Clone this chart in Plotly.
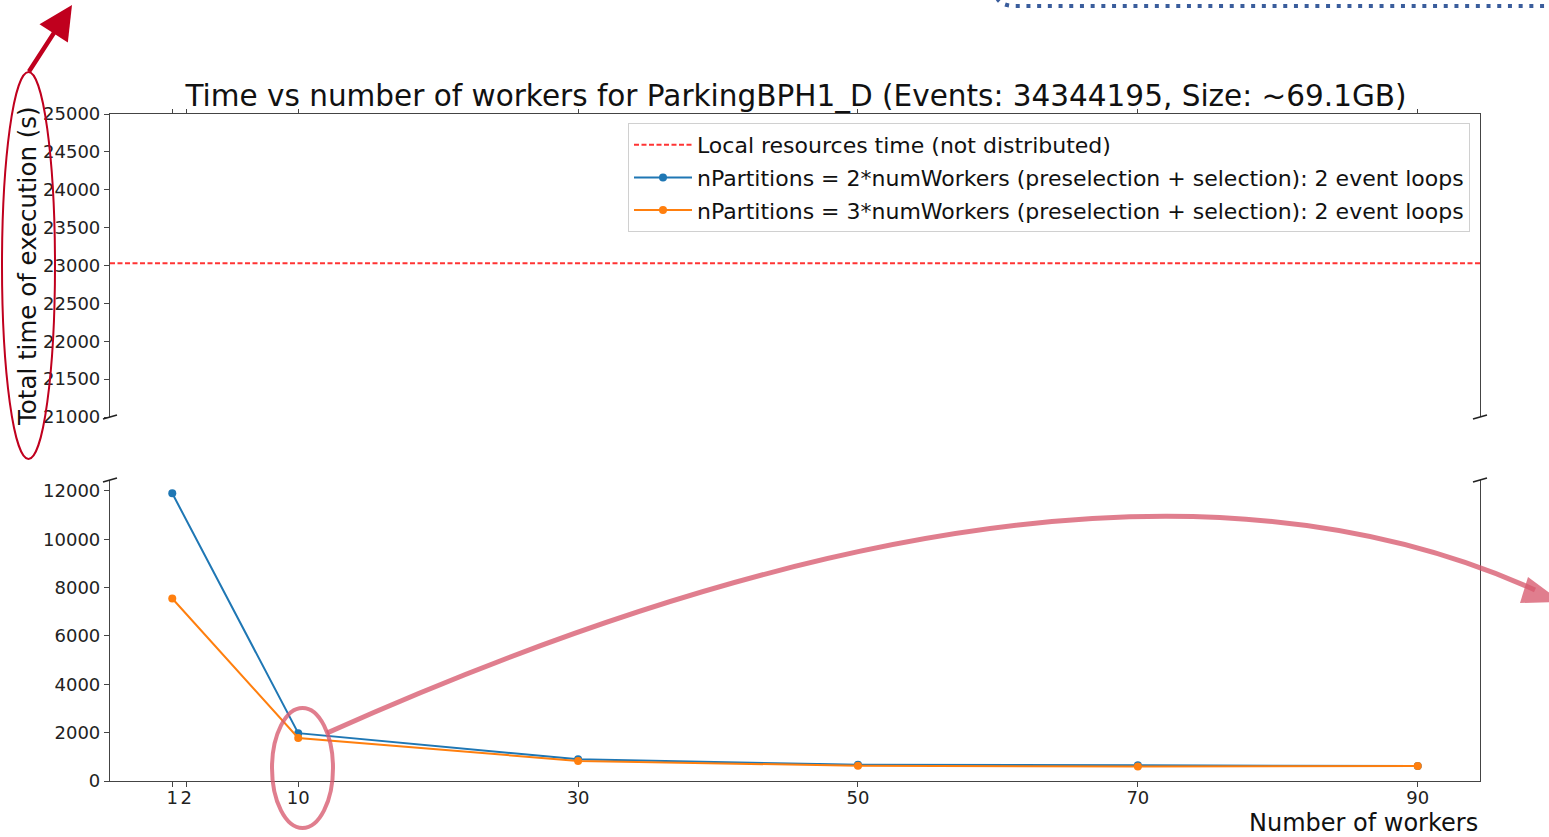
import plotly.graph_objects as go

# ---------------- data ----------------
workers = [1, 10, 30, 50, 70, 90]
time_2x = [11900, 1980, 900, 670, 650, 620]
time_3x = [7550, 1780, 830, 630, 600, 620]
local_time = 23030
x_ticks = [1, 2, 10, 30, 50, 70, 90]
top_yticks = [21000, 21500, 22000, 22500, 23000, 23500, 24000, 24500, 25000]
bottom_yticks = [0, 2000, 4000, 6000, 8000, 10000, 12000]

title = "Time vs number of workers for ParkingBPH1_D (Events: 34344195, Size: ~69.1GB)"
name_local = "Local resources time (not distributed)"
name_2x = "nPartitions = 2*numWorkers (preselection + selection): 2 event loops"
name_3x = "nPartitions = 3*numWorkers (preselection + selection): 2 event loops"

# ---------------- layout geometry (pixels) ----------------
W, H = 1549, 837
L, R, T, B = 110, 1480, 114, 781
TOP_BOTTOM_PX = 417   # bottom edge of upper panel
BOT_TOP_PX = 480      # top edge of lower panel
XRANGE = [-3.45, 94.45]


def px2x(px):
    return (px - L) / (R - L)


def py2y(py):
    return (B - py) / (B - T)


FONT = "DejaVu Sans"
AXC = "#444444"
BLUE = "#1f77b4"
ORANGE = "#ff7f0e"

fig = go.Figure()

fig.add_trace(go.Scatter(
    x=XRANGE, y=[local_time, local_time], xaxis="x2", yaxis="y2",
    mode="lines", name=name_local, legendgroup="a",
    line=dict(color="rgba(255,30,30,0.9)", width=1.9, dash="5px,2.5px"),
))
fig.add_trace(go.Scatter(
    x=workers, y=time_2x, xaxis="x", yaxis="y", mode="lines+markers",
    name=name_2x, legendgroup="b",
    line=dict(color=BLUE, width=2), marker=dict(color=BLUE, size=8),
))
fig.add_trace(go.Scatter(
    x=workers, y=time_3x, xaxis="x", yaxis="y", mode="lines+markers",
    name=name_3x, legendgroup="c",
    line=dict(color=ORANGE, width=2), marker=dict(color=ORANGE, size=8),
))

tickfont = dict(family=FONT, size=18, color="#222222")

fig.update_layout(
    width=W, height=H,
    margin=dict(l=L, r=W - R, t=T, b=H - B, autoexpand=False),
    paper_bgcolor="white", plot_bgcolor="white",
    font=dict(family=FONT, color="#111111"),
    showlegend=True,
    title=dict(text=title, x=796 / W, xanchor="center",
               y=(H - 96) / H, yanchor="middle", yref="container",
               font=dict(family=FONT, size=29.5, color="#111111")),
    xaxis=dict(domain=[0, 1], range=XRANGE, anchor="y", tickmode="array",
               tickvals=x_ticks, ticktext=[str(v) for v in x_ticks],
               ticks="outside", ticklen=5, tickcolor=AXC, tickfont=tickfont,
               ticklabelstandoff=-5,
               showline=True, linecolor=AXC, linewidth=1.2, mirror=False,
               showgrid=False, zeroline=False),
    xaxis2=dict(domain=[0, 1], range=XRANGE, anchor="y2", side="top",
                matches="x", tickmode="array", tickvals=x_ticks,
                showticklabels=False, ticks="outside", ticklen=4, tickcolor=AXC,
                showline=True, linecolor=AXC, linewidth=1.2,
                showgrid=False, zeroline=False),
    yaxis=dict(domain=[0, py2y(BOT_TOP_PX)], range=[0, 12450], anchor="x",
               tickmode="array", tickvals=bottom_yticks,
               ticktext=[str(v) for v in bottom_yticks], ticks="outside",
               ticklen=5, tickcolor=AXC, tickfont=tickfont,
               showline=True, linecolor=AXC, linewidth=1.2, mirror=True,
               showgrid=False, zeroline=False),
    yaxis2=dict(domain=[py2y(TOP_BOTTOM_PX), 1], range=[21000, 25000], anchor="x2",
                tickmode="array", tickvals=top_yticks,
                ticktext=[str(v) for v in top_yticks], ticks="outside",
                ticklen=5, tickcolor=AXC, tickfont=tickfont,
                showline=True, linecolor=AXC, linewidth=1.2, mirror=True,
                showgrid=False, zeroline=False),
    legend=dict(x=px2x(1470), y=py2y(123), xanchor="right", yanchor="top",
                bgcolor="rgba(255,255,255,0.85)", bordercolor="#d0d0d0",
                borderwidth=1, font=dict(family=FONT, size=22, color="#111111"),
                traceorder="grouped", tracegroupgap=1, itemwidth=58),
)

# axis titles
fig.add_annotation(text="Total time of execution (s)", xref="paper", yref="paper",
                   x=px2x(27), y=py2y(266), textangle=-90, showarrow=False,
                   xanchor="center", yanchor="middle",
                   font=dict(family=FONT, size=24.5, color="#111111"))
fig.add_annotation(text="Number of workers", xref="paper", yref="paper",
                   x=1, y=py2y(823), showarrow=False, xanchor="right",
                   yanchor="middle", font=dict(family=FONT, size=24, color="#111111"))

# broken-axis diagonal marks
for yref in ["y domain", "y2 domain"]:
    ypos = 1 if yref == "y domain" else 0
    for xpos in [0, 1]:
        fig.add_shape(type="line", xref="x domain", yref=yref,
                      xsizemode="pixel", ysizemode="pixel",
                      xanchor=xpos, yanchor=ypos,
                      x0=-7, x1=7, y0=-2, y1=2,
                      line=dict(color="#222222", width=1.6))

# ---------------- slide overlay annotations ----------------
DARKRED = "#C0001E"
PINK = "rgba(215,90,110,0.78)"

# red ellipse around y label
fig.add_shape(type="circle", xref="paper", yref="paper",
              x0=px2x(2), x1=px2x(55), y0=py2y(459), y1=py2y(72),
              line=dict(color=DARKRED, width=2))
# red arrow
fig.add_annotation(xref="paper", yref="paper", x=px2x(72), y=py2y(5),
                   ax=28 - 72, ay=73 - 5, text="", showarrow=True,
                   arrowhead=2, arrowsize=1.5, arrowwidth=4.5, arrowcolor=DARKRED)
# pink ellipse around x=10 tick
fig.add_shape(type="circle", xref="paper", yref="paper",
              x0=px2x(272), x1=px2x(333), y0=py2y(828), y1=py2y(708),
              line=dict(color=PINK, width=4))


def p(px, py):
    return f"{px2x(px):.5f},{py2y(py):.5f}"


# curved pink arrow
fig.add_shape(type="path", xref="paper", yref="paper",
              path=f"M {p(327, 733)} Q {p(1094, 390)} {p(1535, 590)}",
              line=dict(color=PINK, width=5))
fig.add_shape(type="path", xref="paper", yref="paper",
              path=f"M {p(1528, 577)} L {p(1562, 602)} L {p(1520, 603)} Z",
              fillcolor=PINK, line=dict(color=PINK, width=0))
# blue dotted border fragment at top
fig.add_shape(type="path", xref="paper", yref="paper",
              path=f"M {p(997, -2)} Q {p(1001, 6)} {p(1016, 6)} L {p(1555, 6)}",
              line=dict(color="#3A5D9C", width=4, dash="4px,6.7px"))

fig.write_html("out.html", config={"displayModeBar": False},
               post_script="document.body.style.margin='0';document.body.style.overflow='hidden';")
